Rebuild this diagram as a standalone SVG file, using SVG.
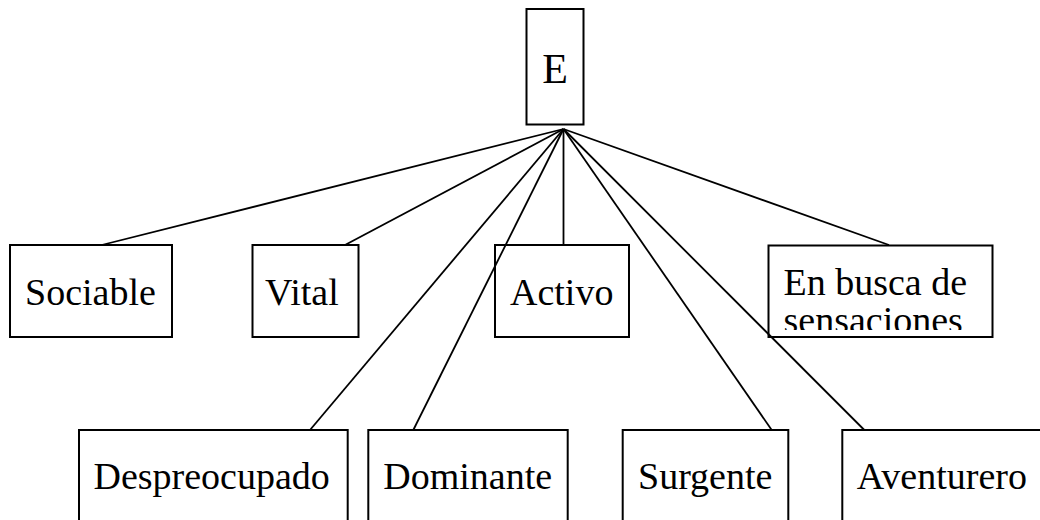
<svg xmlns="http://www.w3.org/2000/svg" width="1040" height="520" viewBox="0 0 1040 520">
<style>
.box{fill:none;stroke:#000;stroke-width:2}
.t{font-family:"Liberation Serif","Times New Roman",serif;font-size:38px;fill:#000}
.c{stroke:#000;stroke-width:1.8;fill:none}
</style>
<defs>
<clipPath id="clipEB"><rect x="768" y="245" width="225" height="85"/></clipPath>
</defs>
<rect width="1040" height="520" fill="#fff"/>
<g id="connectors">
<line class="c" x1="563.5" y1="129" x2="101.7" y2="245"/>
<line class="c" x1="563.5" y1="129" x2="345" y2="245"/>
<line class="c" x1="563.5" y1="129" x2="563.5" y2="245"/>
<line class="c" x1="563.5" y1="129" x2="889" y2="245"/>
<line class="c" x1="563.5" y1="129" x2="310" y2="430"/>
<line class="c" x1="563.5" y1="129" x2="413.3" y2="430"/>
<line class="c" x1="563.5" y1="129" x2="771.7" y2="430"/>
<line class="c" x1="563.5" y1="129" x2="864.3" y2="430"/>
</g>
<g id="node-E">
<rect class="box" x="526.5" y="9" width="57" height="115.5"/>
<text class="t" x="555" y="83" text-anchor="middle" style="font-size:42px">E</text>
</g>
<g id="node-sociable">
<rect class="box" x="10" y="245" width="162" height="92"/>
<text class="t" x="25" y="305">Sociable</text>
</g>
<g id="node-vital">
<rect class="box" x="252.5" y="245" width="106" height="92"/>
<text class="t" x="265" y="305">Vital</text>
</g>
<g id="node-activo">
<rect class="box" x="495" y="245" width="134" height="92"/>
<text class="t" x="510" y="305">Activo</text>
</g>
<g id="node-busca">
<rect class="box" x="768.5" y="245.5" width="224" height="91.5"/>
<g clip-path="url(#clipEB)">
<text class="t" x="783.5" y="295">En busca de</text>
<text class="t" x="783.5" y="333">sensaciones</text>
</g>
</g>
<g id="node-despreocupado">
<rect class="box" x="79" y="430" width="268.7" height="100"/>
<text class="t" x="93.5" y="489">Despreocupado</text>
</g>
<g id="node-dominante">
<rect class="box" x="368.3" y="430" width="199.4" height="100"/>
<text class="t" x="383.3" y="489">Dominante</text>
</g>
<g id="node-surgente">
<rect class="box" x="622.7" y="430" width="165.6" height="100"/>
<text class="t" x="638" y="489">Surgente</text>
</g>
<g id="node-aventurero">
<rect class="box" x="842.3" y="430" width="220" height="100"/>
<text class="t" x="856.7" y="489">Aventurero</text>
</g>
</svg>
